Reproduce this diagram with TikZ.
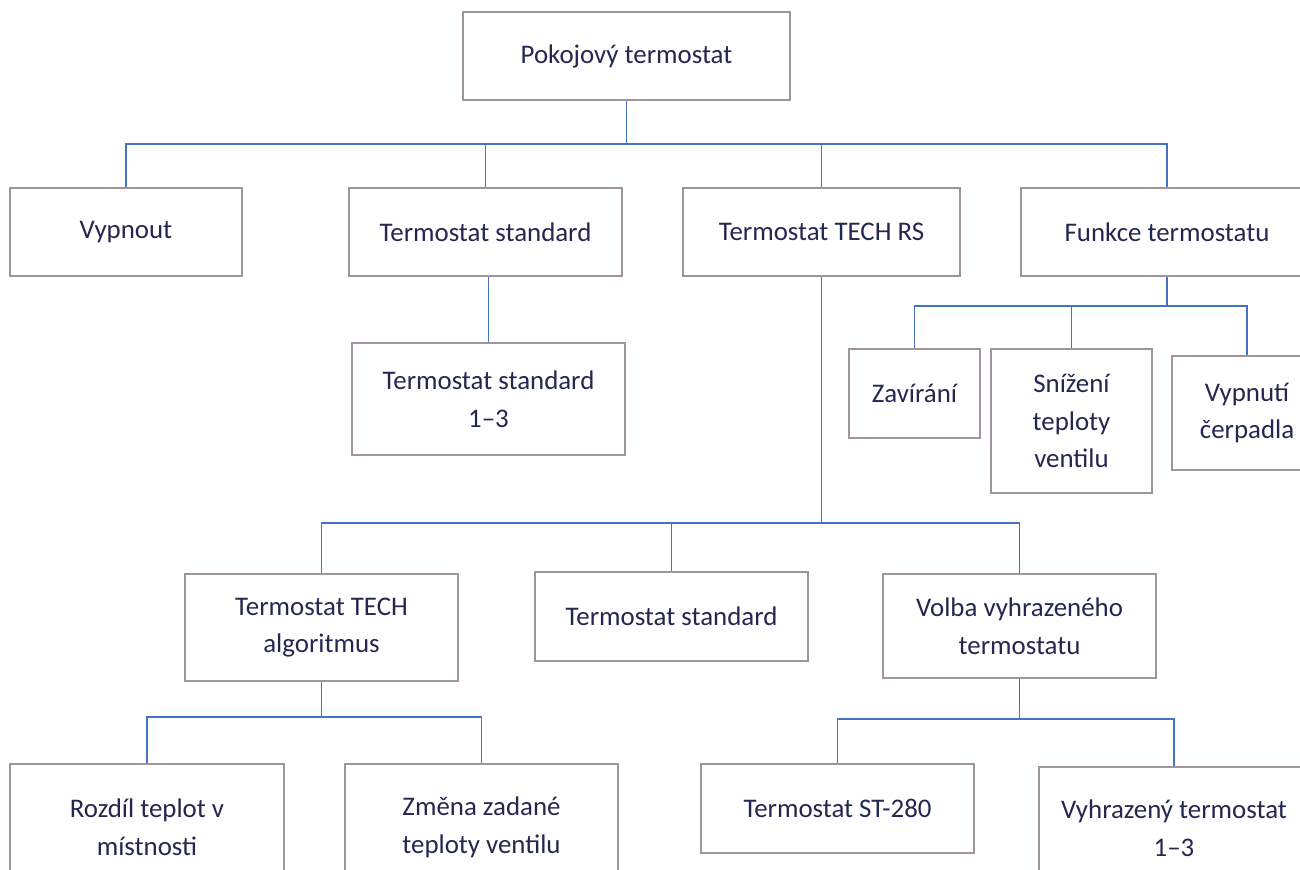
\documentclass[tikz,border=0pt]{standalone}
\usepackage{fontspec}
\setmainfont{Carlito}
\usepackage{xcolor}
\usepackage{tikz}
\definecolor{boxgray}{RGB}{160,148,160}
\definecolor{linkblue}{RGB}{68,114,196}
\definecolor{textnavy}{RGB}{35,40,80}

\begin{document}
\begin{tikzpicture}[
    x=0.02cm, y=-0.02cm,
    box/.style={draw=boxgray, line width=1.6pt, fill=white, text=textnavy, align=center,
        inner sep=0pt, font=\fontsize{15.3}{21.5}\selectfont},
    link/.style={draw=linkblue, line width=0.9pt}
]
\useasboundingbox (0,0) rectangle (1300,869);
\clip (0,0) rectangle (1300,869);

% level 0 and 1
\node[box, minimum width=6.54cm, minimum height=1.76cm] (root) at (626.5,56) {Pokojový termostat};
\node[box, minimum width=4.64cm, minimum height=1.76cm] (vyp) at (126,232) {Vypnout};
\node[box, minimum width=5.46cm, minimum height=1.76cm] (std) at (485.5,232) {Termostat standard};
\node[box, minimum width=5.54cm, minimum height=1.76cm] (rs) at (821.5,232) {Termostat TECH RS};
\node[box, minimum width=5.84cm, minimum height=1.76cm] (fun) at (1167,232) {Funkce termostatu};

% level 2
\node[box, minimum width=5.46cm, minimum height=2.24cm] (std13) at (488.5,399) {Termostat standard\\1–3};
\node[box, minimum width=2.62cm, minimum height=1.78cm] (zav) at (914.5,393.5) {Zavírání};
\node[box, minimum width=3.22cm, minimum height=2.88cm] (sniz) at (1071.5,421) {Snížení\\teploty\\ventilu};
\node[box, minimum width=3.00cm, minimum height=2.28cm] (vypc) at (1247,413) {Vypnutí\\čerpadla};

% level 3
\node[box, minimum width=5.46cm, minimum height=2.14cm] (alg) at (321.5,627.5) {Termostat TECH\\algoritmus};
\node[box, minimum width=5.46cm, minimum height=1.78cm] (std2) at (671.5,616.5) {Termostat standard};
\node[box, minimum width=5.46cm, minimum height=2.08cm] (volba) at (1019.5,626) {Volba vyhrazeného\\termostatu};

% level 4
\node[box, minimum width=5.48cm, minimum height=2.52cm] (rozd) at (147,827) {Rozdíl teplot v\\místnosti};
\node[box, minimum width=5.46cm, minimum height=2.52cm] (zmena) at (481.5,827) {Změna zadané\\teploty ventilu};
\node[box, minimum width=5.46cm, minimum height=1.78cm] (st280) at (837.5,808.5) {Termostat ST-280};
\node[box, minimum width=5.40cm, minimum height=2.46cm] (vyhr) at (1174,828.5) {Vyhrazený termostat\\1–3};

% bus lines
\coordinate (busroot) at (0,144);
\coordinate (busfun) at (0,306);
\coordinate (busrs) at (0,523);
\coordinate (busalg) at (0,717);
\coordinate (busvol) at (0,719);

% connectors
\foreach \c in {vyp,std,rs,fun}
    \draw[link] (root.south) -- (root.south |- busroot) -| (\c.north);
\draw[link] (std13.north) -- (std13.north |- std.south);
\foreach \c in {zav,sniz,vypc}
    \draw[link] (fun.south) -- (fun.south |- busfun) -| (\c.north);
\foreach \c in {alg,std2,volba}
    \draw[link] (rs.south) -- (rs.south |- busrs) -| (\c.north);
\foreach \c in {rozd,zmena}
    \draw[link] (alg.south) -- (alg.south |- busalg) -| (\c.north);
\foreach \c in {st280,vyhr}
    \draw[link] (volba.south) -- (volba.south |- busvol) -| (\c.north);

\end{tikzpicture}
\end{document}
